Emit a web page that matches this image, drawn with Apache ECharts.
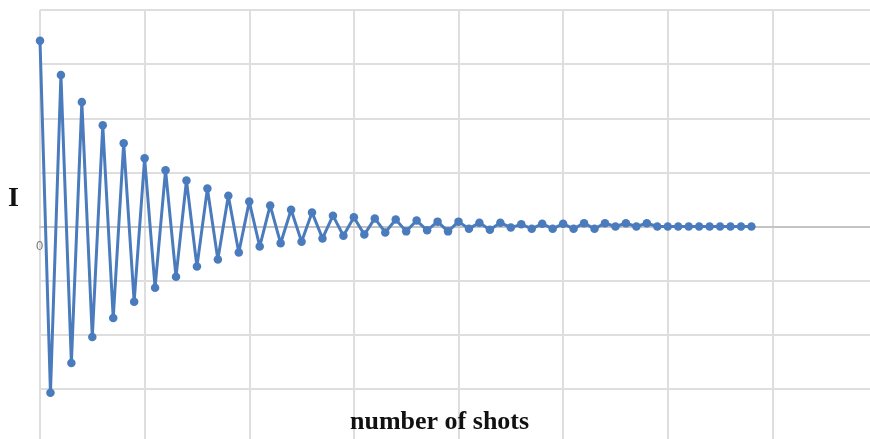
<!DOCTYPE html>
<html>
<head>
<meta charset="utf-8">
<script src="https://cdn.jsdelivr.net/npm/echarts@6/dist/echarts.min.js"></script>
<style>
html,body{margin:0;padding:0;background:#fff;}
#chart{width:870px;height:439px;}
</style>
</head>
<body>
<div id="chart"></div>
<script>
// Amplitude I for each shot (index = shot number)
var intensity = [
  3.43, -3.07, 2.80, -2.52, 2.30, -2.04, 1.87, -1.69, 1.54, -1.39,
  1.26, -1.13, 1.04, -0.93, 0.85, -0.74, 0.70, -0.61, 0.57, -0.48,
  0.46, -0.37, 0.39, -0.31, 0.31, -0.28, 0.26, -0.22, 0.20, -0.17,
  0.17, -0.15, 0.15, -0.11, 0.13, -0.09, 0.11, -0.07, 0.09, -0.09,
  0.09, -0.04, 0.07, -0.06, 0.07, -0.02, 0.04, -0.04, 0.05, -0.04,
  0.05, -0.04, 0.06, -0.04, 0.06, 0.00, 0.06, 0.00, 0.06, 0.00,
  0.00, 0.00, 0.00, 0.00, 0.00, 0.00, 0.00, 0.00, 0.00
];
var xTickLabels = ['0'];
var yAxisTitle = 'I';
var xAxisTitle = 'number of shots';

var points = intensity.map(function (v, i) { return [i, v]; });

var chart = echarts.init(document.getElementById('chart'));
chart.setOption({
  animation: false,
  grid: { left: 40, top: 10, right: -7, bottom: -4, containLabel: false, outerBoundsMode: 'none' },
  xAxis: {
    type: 'value', min: 0, max: 80, interval: 10,
    axisLine: { show: true, onZero: true, lineStyle: { color: '#c4c4c4', width: 2 } },
    axisTick: { show: false },
    axisLabel: { show: false },
    splitLine: { show: true, lineStyle: { color: '#dedede', width: 2 } }
  },
  yAxis: {
    type: 'value', min: -4, max: 4, interval: 1,
    axisLine: { show: false },
    axisTick: { show: false },
    axisLabel: { show: false },
    splitLine: { show: true, lineStyle: { color: '#dedede', width: 2 } }
  },
  graphic: [
    { type: 'text', left: 36, top: 240, z: 20,
      style: { text: xTickLabels[0], font: '13px "Liberation Sans"', fill: '#7a7a7a' } },
    { type: 'text', left: 8, top: 185, z: 10,
      style: { text: yAxisTitle, font: 'bold 28px "Liberation Serif"', fill: '#111' } },
    { type: 'text', left: 350, top: 409, z: 10,
      style: { text: xAxisTitle, font: 'bold 26px "Liberation Serif"', fill: '#111' } }
  ],
  series: [{
    type: 'line',
    data: points,
    symbol: 'circle',
    symbolSize: 8.5,
    clip: false,
    z: 5,
    lineStyle: { color: '#4a7bbd', width: 3 },
    itemStyle: { color: '#4a7bbd' }
  }]
});
</script>
</body>
</html>
